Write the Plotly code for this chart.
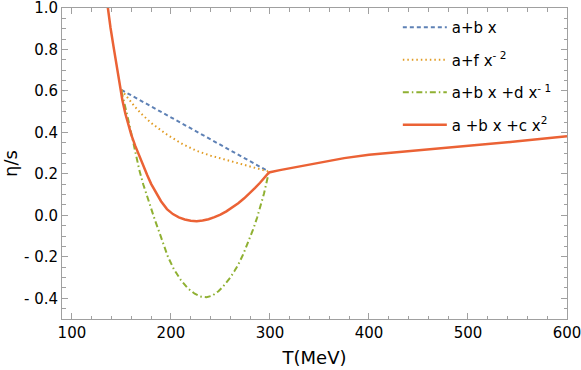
import plotly.graph_objects as go

# ---- data ----
T_lin = [150, 298]
eta_lin = [0.605, 0.213]

T_inv2 = [150, 153, 158, 163, 170, 180, 190, 197, 212, 226, 240, 259, 275, 292, 298]
eta_inv2 = [0.605, 0.587, 0.556, 0.527, 0.49, 0.446, 0.41, 0.386, 0.343, 0.311, 0.288, 0.263, 0.241, 0.219, 0.212]

T_inv1 = [150, 153, 156, 160, 164, 168, 172, 176, 180, 184, 188, 192, 197, 203, 210, 217, 224, 230,
          236, 242, 248, 252, 256, 260, 264, 268, 273, 278, 283, 287, 291, 294, 297, 299]
eta_inv1 = [0.60, 0.545, 0.48, 0.395, 0.30, 0.22, 0.15, 0.088, 0.03, -0.025, -0.078, -0.135, -0.2, -0.26,
            -0.312, -0.352, -0.378, -0.392, -0.395, -0.387, -0.366, -0.347, -0.325, -0.3, -0.27, -0.238,
            -0.188, -0.13, -0.068, -0.012, 0.05, 0.105, 0.168, 0.21]

T_quad = [133, 136, 139, 142, 145, 148, 151, 154, 157, 160, 164, 168, 172, 176, 180, 185, 190, 196, 202,
          208, 214, 220, 226, 232, 238, 244, 250, 256, 262, 268, 274, 280, 285, 290, 295, 299,
          310, 325, 350, 375, 400, 425, 450, 460, 500, 550, 600]
eta_quad = [1.12, 1.0, 0.905, 0.815, 0.725, 0.632, 0.555, 0.49, 0.435, 0.388, 0.335, 0.285, 0.238, 0.195,
            0.152, 0.107, 0.068, 0.03, 0.006, -0.01, -0.02, -0.026, -0.028, -0.025, -0.019, -0.009, 0.003,
            0.019, 0.037, 0.058, 0.082, 0.108, 0.132, 0.157, 0.184, 0.207,
            0.218, 0.232, 0.255, 0.276, 0.292, 0.303, 0.312, 0.315, 0.333, 0.357, 0.382]

x_ticks = [100, 200, 300, 400, 500, 600]
y_ticks = [-0.4, -0.2, 0.0, 0.2, 0.4, 0.6, 0.8, 1.0]
y_ticktext = ["- 0.4", "- 0.2", "0.0", "0.2", "0.4", "0.6", "0.8", "1.0"]

names = ["a+b x", "a+f x<sup>- 2</sup>", "a+b x +d x<sup>- 1</sup>", "a +b x +c x<sup>2</sup>"]

FONT = "DejaVu Sans"
AX = "#a0a0a0"
FS = 15

fig = go.Figure()
series = [
    (T_lin, eta_lin, names[0], "#5E81B5", "4px,3px", 2),
    (T_inv2, eta_inv2, names[1], "#E19C24", "1.5px,3px", 2),
    (T_inv1, eta_inv1, names[2], "#8FB032", "6px,3px,1.5px,3px", 2),
    (T_quad, eta_quad, names[3], "#EB6235", "solid", 2.5),
]
for T, y, nm, col, dash, w in series:
    fig.add_trace(go.Scatter(x=T, y=y, mode="lines", name=nm, legendgroup=nm,
                             line=dict(color=col, dash=dash, width=w)))

fig.update_layout(
    width=581, height=370,
    margin=dict(l=62, r=14, t=8, b=51, autoexpand=False),
    paper_bgcolor="white", plot_bgcolor="white",
    font=dict(family=FONT, size=FS, color="black"),
    showlegend=True,
    legend=dict(x=0.665, y=0.99, xanchor="left", yanchor="top",
                bgcolor="rgba(0,0,0,0)", font=dict(size=FS), tracegroupgap=10,
                itemwidth=44),
    xaxis=dict(range=[90, 600], tickmode="array", tickvals=x_ticks, automargin=False,
               ticklabeloverflow="allow",
               ticks="inside", ticklen=6, tickcolor=AX, showline=True, linecolor=AX,
               linewidth=1, mirror="ticks", showgrid=False, zeroline=False,
               minor=dict(tick0=0, dtick=20, ticks="inside", ticklen=3.5, tickcolor=AX, showgrid=False),
               title=dict(text="T(MeV)", standoff=10), tickfont=dict(size=FS)),
    yaxis=dict(range=[-0.5, 1.0], tickmode="array", tickvals=y_ticks, ticktext=y_ticktext, automargin=False,
               ticklabeloverflow="allow",
               ticks="inside", ticklen=6, tickcolor=AX, showline=True, linecolor=AX,
               linewidth=1, mirror="ticks", showgrid=False, zeroline=False,
               minor=dict(tick0=0, dtick=0.05, ticks="inside", ticklen=3.5, tickcolor=AX, showgrid=False),
               title=dict(text="η/s", standoff=5), tickfont=dict(size=FS)),
)

fig.write_html("out.html", config={"displayModeBar": False},
               post_script="document.body.style.margin='0';document.body.style.overflow='hidden';")
